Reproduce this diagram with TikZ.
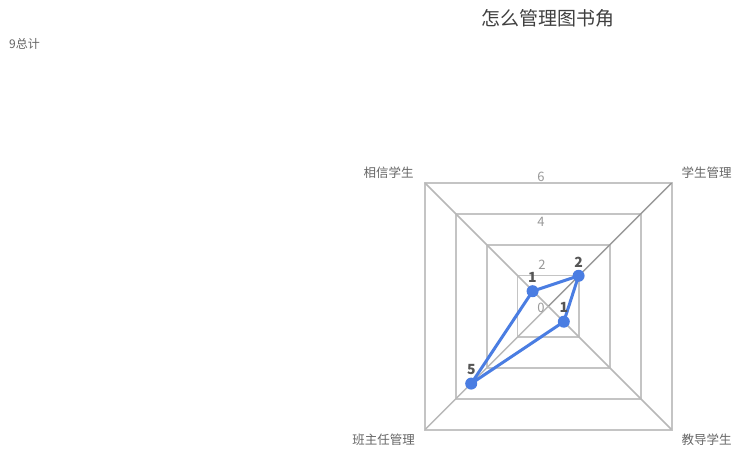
\documentclass[tikz,border=0pt]{standalone}
\usepackage{fontspec}
\usetikzlibrary{calc}
\setmainfont{Noto Sans CJK SC}
\definecolor{ring}{HTML}{C4C4C4}
\definecolor{axisc}{HTML}{B8B8B8}
\definecolor{series}{HTML}{4A7DE2}
\definecolor{lbl}{HTML}{666666}
\definecolor{tick}{HTML}{999999}
\definecolor{vallbl}{HTML}{555555}
\tikzset{
  ringline/.style={draw=ring, line width=1.9pt},
  axisline/.style={draw=axisc, line width=1.5pt},
  catlabel/.style={font=\fontsize{12.5}{14}\selectfont, text=lbl, inner sep=0pt},
  ticklabel/.style={font=\fontsize{13}{15}\selectfont, text=tick, inner sep=0pt},
  vallabel/.style={font=\fontsize{14}{16}\selectfont\bfseries, text=vallbl, inner sep=0pt},
  dot/.style={circle, fill=series, minimum size=12pt, inner sep=0pt},
  serieslink/.style={draw=series, line width=3pt, line join=round}
}
\begin{document}
\begin{tikzpicture}[x=1pt, y=-1pt]
\useasboundingbox (0,0) rectangle (734,450);
\fill[white] (0,0) rectangle (734,450);
% title and subtitle
\node[font=\fontsize{19}{22}\selectfont, text=black!75, inner sep=0pt] (title) at (548,18.5) {怎么管理图书角};
\node[font=\fontsize{12}{14}\selectfont, text=lbl, anchor=west, inner sep=0pt] (total) at (9,43.5) {9总计};
% centre and corners
\coordinate (C) at (548.3,306.3);
\coordinate (TL) at (425,183);
\coordinate (TR) at (671.6,183);
\coordinate (BR) at (671.6,429.6);
\coordinate (BL) at (425,429.6);
% rings
\foreach \k in {1,2,3,4}{
  \pgfmathsetmacro{\r}{30.83*\k}
  \draw[ringline] ($(C)+(-\r,-\r)$) rectangle ($(C)+(\r,\r)$);
}
% axes
\draw[axisline] (C) -- (TL);
\draw[axisline, draw=tick] (C) -- (TR);
\draw[axisline] (C) -- (BR);
\draw[axisline] (C) -- (BL);
% tick labels
\node[ticklabel] (t0) at (541,308) {0};
\node[ticklabel] (t2) at (542,264.5) {2};
\node[ticklabel] (t4) at (541,221.5) {4};
\node[ticklabel] (t6) at (541,177) {6};
% category labels
\node[catlabel] (c1) at (388.5,172.5) {相信学生};
\node[catlabel] (c2) at (706.5,172.5) {学生管理};
\node[catlabel] (c3) at (706.5,440) {教导学生};
\node[catlabel] (c4) at (383.5,440) {班主任管理};
% data
\coordinate (p1) at (532.6,291.2);
\coordinate (p2) at (578.6,275.8);
\coordinate (p3) at (563.8,321.7);
\coordinate (p4) at (471.2,383.6);
\draw[serieslink] (p1) -- (p2) -- (p3) -- (p4) -- cycle;
\node[dot] (d1) at (p1) {};
\node[dot] (d2) at (p2) {};
\node[dot] (d3) at (p3) {};
\node[dot] (d4) at (p4) {};
\node[vallabel] (v1) at (532.3,277) {1};
\node[vallabel] (v2) at (578.6,262.5) {2};
\node[vallabel] (v3) at (564,307.5) {1};
\node[vallabel] (v4) at (471.5,369.5) {5};
\end{tikzpicture}
\end{document}
